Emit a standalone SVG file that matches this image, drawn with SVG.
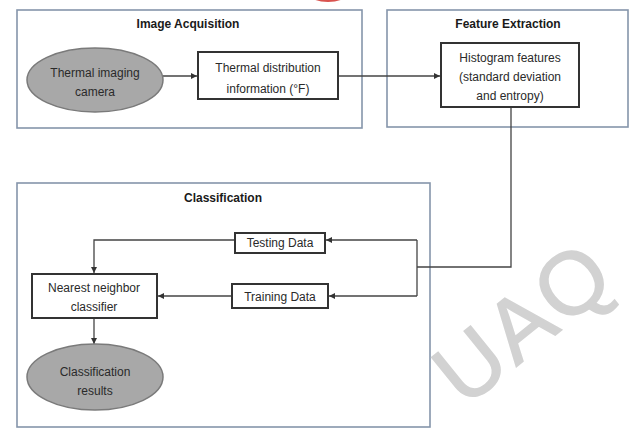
<svg xmlns="http://www.w3.org/2000/svg" width="631" height="431" viewBox="0 0 631 431">
<defs>
<marker id="ah" viewBox="0 0 6 6" refX="6" refY="3" markerWidth="6" markerHeight="6" markerUnits="userSpaceOnUse" orient="auto">
<path d="M0,0 L6,3 L0,6 z" fill="#333"/>
</marker>
</defs>
<style>
text{font-family:"Liberation Sans","DejaVu Sans",sans-serif;font-size:12px;fill:#2a2a2a;text-anchor:middle}
.title{font-weight:bold;fill:#1a1a1a}
.group{fill:none;stroke:#8595ab;stroke-width:1.6}
.box{fill:#fff;stroke:#333;stroke-width:2}
.ell{fill:#a8a8a8;stroke:#7a7a7a;stroke-width:1.5}
.conn{fill:none;stroke:#444;stroke-width:1.3;marker-end:url(#ah)}
.line{fill:none;stroke:#444;stroke-width:1.3}
.wm{font-size:88px;fill:#d2d2d2;stroke:#d2d2d2;stroke-width:1.5;letter-spacing:3px}
</style>
<rect width="631" height="431" fill="#fff"/>
<ellipse cx="328" cy="-5" rx="18" ry="7" fill="#d9534f"/>

<g id="image-acquisition">
<rect class="group" x="17" y="10" width="345" height="118"/>
<text class="title" x="188" y="28">Image Acquisition</text>
</g>
<g id="feature-extraction">
<rect class="group" x="387" y="10" width="241" height="117"/>
<text class="title" x="508" y="28">Feature Extraction</text>
</g>
<g id="classification">
<rect class="group" x="17" y="183" width="413" height="244"/>
<text class="title" x="223" y="202">Classification</text>
</g>

<g id="connectors">
<path class="conn" d="M163,76 H197"/>
<path class="conn" d="M338,76 H440"/>
<path class="line" d="M511,107 V267 H417"/>
<path class="line" d="M417,240 V296"/>
<path class="conn" d="M417,240 H326"/>
<path class="conn" d="M417,296 H329"/>
<path class="conn" d="M235,240 H94 V273"/>
<path class="conn" d="M232,296 H158"/>
<path class="conn" d="M94,318 V344"/>
</g>

<g id="thermal-camera">
<ellipse class="ell" cx="95" cy="80" rx="68" ry="32"/>
<text x="95" y="77" font-size="13">Thermal imaging</text>
<text x="95" y="96" font-size="13">camera</text>
</g>
<g id="thermal-distribution">
<rect class="box" x="198" y="52" width="140" height="47"/>
<text x="268" y="72">Thermal distribution</text>
<text x="268" y="93">information (°F)</text>
</g>
<g id="histogram-features">
<rect class="box" x="441" y="43" width="138" height="64"/>
<text x="510" y="62">Histogram features</text>
<text x="510" y="81">(standard deviation</text>
<text x="510" y="100">and entropy)</text>
</g>
<g id="testing-data">
<rect class="box" x="235" y="233" width="90" height="20"/>
<text x="280" y="247">Testing Data</text>
</g>
<g id="training-data">
<rect class="box" x="232" y="284" width="96" height="24"/>
<text x="280" y="301">Training Data</text>
</g>
<g id="nearest-neighbor">
<rect class="box" x="32" y="274" width="125" height="44"/>
<text x="94" y="292">Nearest neighbor</text>
<text x="94" y="311">classifier</text>
</g>
<g id="classification-results">
<ellipse class="ell" cx="95" cy="377" rx="68" ry="33"/>
<text x="95" y="376" font-size="13">Classification</text>
<text x="95" y="395" font-size="13">results</text>
</g>

<g id="watermark">
<text class="wm" transform="translate(521,323) rotate(-39)" x="2" y="31">UAQ</text>
</g>
</svg>
